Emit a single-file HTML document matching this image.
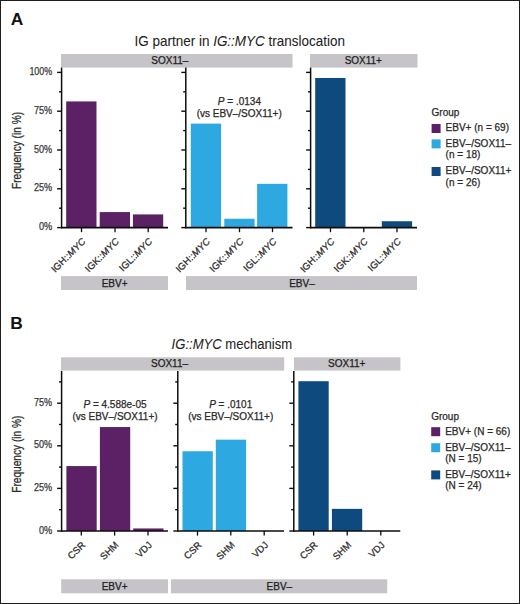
<!DOCTYPE html>
<html><head><meta charset="utf-8"><style>
html,body{margin:0;padding:0;background:#fff;}
body{width:520px;height:604px;overflow:hidden;}
svg{display:block;font-family:"Liberation Sans", sans-serif;}

</style></head><body>
<svg width="520" height="604" viewBox="0 0 520 604">
<rect x="0" y="0" width="520" height="604" fill="#fff"/>
<text x="10.70" y="24.90" font-size="17.4" font-weight="bold" fill="#111" stroke="#111" stroke-width="0">A</text>
<text x="134.50" y="45.80" font-size="14.3" textLength="210.5" lengthAdjust="spacingAndGlyphs" fill="#222" stroke="#222" stroke-width="0.05">IG partner in <tspan font-style="italic">IG::MYC</tspan> translocation</text>
<rect x="61.00" y="54.00" width="231.50" height="13.60" fill="#c6c4c8"/>
<text x="169.90" y="63.60" font-size="10" text-anchor="middle" fill="#222" stroke="#222" stroke-width="0.25">SOX11–</text>
<rect x="310.00" y="54.00" width="107.50" height="13.60" fill="#c6c4c8"/>
<text x="363.30" y="63.60" font-size="10" text-anchor="middle" fill="#222" stroke="#222" stroke-width="0.25">SOX11+</text>
<rect x="61.00" y="276.10" width="107.00" height="13.90" fill="#c6c4c8"/>
<text x="114.60" y="286.90" font-size="10" text-anchor="middle" fill="#222" stroke="#222" stroke-width="0.25">EBV+</text>
<rect x="186.00" y="276.10" width="231.00" height="13.90" fill="#c6c4c8"/>
<text x="302.00" y="286.90" font-size="10" text-anchor="middle" fill="#222" stroke="#222" stroke-width="0.25">EBV–</text>
<rect x="66.20" y="101.42" width="30.30" height="126.18" fill="#5b2164"/>
<rect x="99.70" y="212.08" width="30.30" height="15.52" fill="#5b2164"/>
<rect x="132.90" y="214.41" width="30.30" height="13.19" fill="#5b2164"/>
<line x1="61.60" y1="67.60" x2="61.60" y2="228.30" stroke="#0d0d0d" stroke-width="1.5"/>
<line x1="57.10" y1="227.60" x2="61.60" y2="227.60" stroke="#0d0d0d" stroke-width="1.4"/>
<line x1="57.10" y1="188.80" x2="61.60" y2="188.80" stroke="#0d0d0d" stroke-width="1.4"/>
<line x1="57.10" y1="150.00" x2="61.60" y2="150.00" stroke="#0d0d0d" stroke-width="1.4"/>
<line x1="57.10" y1="111.20" x2="61.60" y2="111.20" stroke="#0d0d0d" stroke-width="1.4"/>
<line x1="57.10" y1="72.40" x2="61.60" y2="72.40" stroke="#0d0d0d" stroke-width="1.4"/>
<line x1="59.00" y1="208.20" x2="61.60" y2="208.20" stroke="#0d0d0d" stroke-width="1.4"/>
<line x1="59.00" y1="169.40" x2="61.60" y2="169.40" stroke="#0d0d0d" stroke-width="1.4"/>
<line x1="59.00" y1="130.60" x2="61.60" y2="130.60" stroke="#0d0d0d" stroke-width="1.4"/>
<line x1="59.00" y1="91.80" x2="61.60" y2="91.80" stroke="#0d0d0d" stroke-width="1.4"/>
<line x1="61.00" y1="227.60" x2="168.00" y2="227.60" stroke="#0d0d0d" stroke-width="1.6"/>
<line x1="81.50" y1="227.60" x2="81.50" y2="232.20" stroke="#0d0d0d" stroke-width="1.3"/>
<text transform="translate(86.10,242.10) rotate(-45)" font-size="9.6" text-anchor="end" fill="#2a2a2a" stroke="#2a2a2a" stroke-width="0.25">IGH::<tspan font-style="italic">MYC</tspan></text>
<line x1="115.00" y1="227.60" x2="115.00" y2="232.20" stroke="#0d0d0d" stroke-width="1.3"/>
<text transform="translate(119.60,242.10) rotate(-45)" font-size="9.6" text-anchor="end" fill="#2a2a2a" stroke="#2a2a2a" stroke-width="0.25">IGK::<tspan font-style="italic">MYC</tspan></text>
<line x1="148.20" y1="227.60" x2="148.20" y2="232.20" stroke="#0d0d0d" stroke-width="1.3"/>
<text transform="translate(152.80,242.10) rotate(-45)" font-size="9.6" text-anchor="end" fill="#2a2a2a" stroke="#2a2a2a" stroke-width="0.25">IGL::<tspan font-style="italic">MYC</tspan></text>
<rect x="190.80" y="123.62" width="30.30" height="103.98" fill="#2ea8e0"/>
<rect x="224.30" y="218.75" width="30.30" height="8.85" fill="#2ea8e0"/>
<rect x="257.10" y="183.83" width="30.30" height="43.77" fill="#2ea8e0"/>
<line x1="185.80" y1="67.60" x2="185.80" y2="228.30" stroke="#0d0d0d" stroke-width="1.5"/>
<line x1="181.30" y1="227.60" x2="185.80" y2="227.60" stroke="#0d0d0d" stroke-width="1.4"/>
<line x1="181.30" y1="188.80" x2="185.80" y2="188.80" stroke="#0d0d0d" stroke-width="1.4"/>
<line x1="181.30" y1="150.00" x2="185.80" y2="150.00" stroke="#0d0d0d" stroke-width="1.4"/>
<line x1="181.30" y1="111.20" x2="185.80" y2="111.20" stroke="#0d0d0d" stroke-width="1.4"/>
<line x1="181.30" y1="72.40" x2="185.80" y2="72.40" stroke="#0d0d0d" stroke-width="1.4"/>
<line x1="183.20" y1="208.20" x2="185.80" y2="208.20" stroke="#0d0d0d" stroke-width="1.4"/>
<line x1="183.20" y1="169.40" x2="185.80" y2="169.40" stroke="#0d0d0d" stroke-width="1.4"/>
<line x1="183.20" y1="130.60" x2="185.80" y2="130.60" stroke="#0d0d0d" stroke-width="1.4"/>
<line x1="183.20" y1="91.80" x2="185.80" y2="91.80" stroke="#0d0d0d" stroke-width="1.4"/>
<line x1="185.20" y1="227.60" x2="292.50" y2="227.60" stroke="#0d0d0d" stroke-width="1.6"/>
<line x1="206.00" y1="227.60" x2="206.00" y2="232.20" stroke="#0d0d0d" stroke-width="1.3"/>
<text transform="translate(210.60,242.10) rotate(-45)" font-size="9.6" text-anchor="end" fill="#2a2a2a" stroke="#2a2a2a" stroke-width="0.25">IGH::<tspan font-style="italic">MYC</tspan></text>
<line x1="239.50" y1="227.60" x2="239.50" y2="232.20" stroke="#0d0d0d" stroke-width="1.3"/>
<text transform="translate(244.10,242.10) rotate(-45)" font-size="9.6" text-anchor="end" fill="#2a2a2a" stroke="#2a2a2a" stroke-width="0.25">IGK::<tspan font-style="italic">MYC</tspan></text>
<line x1="272.50" y1="227.60" x2="272.50" y2="232.20" stroke="#0d0d0d" stroke-width="1.3"/>
<text transform="translate(277.10,242.10) rotate(-45)" font-size="9.6" text-anchor="end" fill="#2a2a2a" stroke="#2a2a2a" stroke-width="0.25">IGL::<tspan font-style="italic">MYC</tspan></text>
<text x="239.40" y="104.80" font-size="10" text-anchor="middle" fill="#2a2a2a" stroke="#2a2a2a" stroke-width="0.25"><tspan font-style="italic">P</tspan> = .0134</text>
<text x="239.20" y="117.00" font-size="10" text-anchor="middle" fill="#2a2a2a" stroke="#2a2a2a" stroke-width="0.25">(vs EBV–/SOX11+)</text>
<rect x="315.20" y="77.99" width="30.30" height="149.61" fill="#0e4a7e"/>
<rect x="381.80" y="221.24" width="30.30" height="6.36" fill="#0e4a7e"/>
<line x1="310.60" y1="67.60" x2="310.60" y2="228.30" stroke="#0d0d0d" stroke-width="1.5"/>
<line x1="306.10" y1="227.60" x2="310.60" y2="227.60" stroke="#0d0d0d" stroke-width="1.4"/>
<line x1="306.10" y1="188.80" x2="310.60" y2="188.80" stroke="#0d0d0d" stroke-width="1.4"/>
<line x1="306.10" y1="150.00" x2="310.60" y2="150.00" stroke="#0d0d0d" stroke-width="1.4"/>
<line x1="306.10" y1="111.20" x2="310.60" y2="111.20" stroke="#0d0d0d" stroke-width="1.4"/>
<line x1="306.10" y1="72.40" x2="310.60" y2="72.40" stroke="#0d0d0d" stroke-width="1.4"/>
<line x1="308.00" y1="208.20" x2="310.60" y2="208.20" stroke="#0d0d0d" stroke-width="1.4"/>
<line x1="308.00" y1="169.40" x2="310.60" y2="169.40" stroke="#0d0d0d" stroke-width="1.4"/>
<line x1="308.00" y1="130.60" x2="310.60" y2="130.60" stroke="#0d0d0d" stroke-width="1.4"/>
<line x1="308.00" y1="91.80" x2="310.60" y2="91.80" stroke="#0d0d0d" stroke-width="1.4"/>
<line x1="310.00" y1="227.60" x2="417.00" y2="227.60" stroke="#0d0d0d" stroke-width="1.6"/>
<line x1="330.50" y1="227.60" x2="330.50" y2="232.20" stroke="#0d0d0d" stroke-width="1.3"/>
<text transform="translate(335.10,242.10) rotate(-45)" font-size="9.6" text-anchor="end" fill="#2a2a2a" stroke="#2a2a2a" stroke-width="0.25">IGH::<tspan font-style="italic">MYC</tspan></text>
<line x1="363.80" y1="227.60" x2="363.80" y2="232.20" stroke="#0d0d0d" stroke-width="1.3"/>
<text transform="translate(368.40,242.10) rotate(-45)" font-size="9.6" text-anchor="end" fill="#2a2a2a" stroke="#2a2a2a" stroke-width="0.25">IGK::<tspan font-style="italic">MYC</tspan></text>
<line x1="397.00" y1="227.60" x2="397.00" y2="232.20" stroke="#0d0d0d" stroke-width="1.3"/>
<text transform="translate(401.60,242.10) rotate(-45)" font-size="9.6" text-anchor="end" fill="#2a2a2a" stroke="#2a2a2a" stroke-width="0.25">IGL::<tspan font-style="italic">MYC</tspan></text>
<text x="52.20" y="230.15" font-size="10" text-anchor="end" textLength="13.3" lengthAdjust="spacingAndGlyphs" fill="#3a3a3a" stroke="#3a3a3a" stroke-width="0.25">0%</text>
<text x="52.20" y="191.35" font-size="10" text-anchor="end" textLength="18.2" lengthAdjust="spacingAndGlyphs" fill="#3a3a3a" stroke="#3a3a3a" stroke-width="0.25">25%</text>
<text x="52.20" y="152.55" font-size="10" text-anchor="end" textLength="18.2" lengthAdjust="spacingAndGlyphs" fill="#3a3a3a" stroke="#3a3a3a" stroke-width="0.25">50%</text>
<text x="52.20" y="113.75" font-size="10" text-anchor="end" textLength="18.2" lengthAdjust="spacingAndGlyphs" fill="#3a3a3a" stroke="#3a3a3a" stroke-width="0.25">75%</text>
<text x="52.20" y="74.95" font-size="10" text-anchor="end" textLength="22.8" lengthAdjust="spacingAndGlyphs" fill="#3a3a3a" stroke="#3a3a3a" stroke-width="0.25">100%</text>
<text transform="translate(21.10,150.50) rotate(-90)" font-size="12.4" text-anchor="middle" textLength="77" lengthAdjust="spacingAndGlyphs" fill="#2a2a2a" stroke="#2a2a2a" stroke-width="0.25">Frequency (in %)</text>
<text x="431.60" y="116.00" font-size="10" fill="#2a2a2a" stroke="#2a2a2a" stroke-width="0.25">Group</text>
<rect x="431.60" y="124.00" width="9.00" height="9.00" fill="#5b2164"/>
<text x="445.60" y="131.30" font-size="10" fill="#2a2a2a" stroke="#2a2a2a" stroke-width="0.25">EBV+ (n = 69)</text>
<rect x="431.60" y="139.40" width="9.00" height="9.00" fill="#2ea8e0"/>
<text x="445.60" y="146.70" font-size="10" fill="#2a2a2a" stroke="#2a2a2a" stroke-width="0.25">EBV–/SOX11–</text>
<text x="445.60" y="158.40" font-size="10" fill="#2a2a2a" stroke="#2a2a2a" stroke-width="0.25">(n = 18)</text>
<rect x="431.60" y="167.00" width="9.00" height="9.00" fill="#0e4a7e"/>
<text x="445.60" y="174.30" font-size="10" fill="#2a2a2a" stroke="#2a2a2a" stroke-width="0.25">EBV–/SOX11+</text>
<text x="445.60" y="186.00" font-size="10" fill="#2a2a2a" stroke="#2a2a2a" stroke-width="0.25">(n = 26)</text>
<text x="10.20" y="328.90" font-size="17.4" font-weight="bold" fill="#111" stroke="#111" stroke-width="0">B</text>
<text x="171.60" y="349.00" font-size="14.3" textLength="120.5" lengthAdjust="spacingAndGlyphs" fill="#222" stroke="#222" stroke-width="0.05"><tspan font-style="italic">IG::MYC</tspan> mechanism</text>
<rect x="61.00" y="357.30" width="223.20" height="13.30" fill="#c6c4c8"/>
<text x="169.50" y="367.10" font-size="10" text-anchor="middle" fill="#222" stroke="#222" stroke-width="0.25">SOX11–</text>
<rect x="294.00" y="357.30" width="106.40" height="13.30" fill="#c6c4c8"/>
<text x="346.70" y="367.10" font-size="10" text-anchor="middle" fill="#222" stroke="#222" stroke-width="0.25">SOX11+</text>
<rect x="61.20" y="579.30" width="106.80" height="14.00" fill="#c6c4c8"/>
<text x="114.60" y="589.90" font-size="10" text-anchor="middle" fill="#222" stroke="#222" stroke-width="0.25">EBV+</text>
<rect x="171.00" y="579.30" width="216.20" height="14.00" fill="#c6c4c8"/>
<text x="279.40" y="589.90" font-size="10" text-anchor="middle" fill="#222" stroke="#222" stroke-width="0.25">EBV–</text>
<rect x="66.40" y="466.08" width="30.30" height="64.92" fill="#5b2164"/>
<rect x="99.90" y="427.06" width="30.30" height="103.94" fill="#5b2164"/>
<rect x="133.20" y="528.44" width="30.30" height="2.56" fill="#5b2164"/>
<line x1="61.60" y1="371.00" x2="61.60" y2="531.70" stroke="#0d0d0d" stroke-width="1.5"/>
<line x1="57.10" y1="531.00" x2="61.60" y2="531.00" stroke="#0d0d0d" stroke-width="1.4"/>
<line x1="57.10" y1="488.40" x2="61.60" y2="488.40" stroke="#0d0d0d" stroke-width="1.4"/>
<line x1="57.10" y1="445.80" x2="61.60" y2="445.80" stroke="#0d0d0d" stroke-width="1.4"/>
<line x1="57.10" y1="403.20" x2="61.60" y2="403.20" stroke="#0d0d0d" stroke-width="1.4"/>
<line x1="59.00" y1="509.70" x2="61.60" y2="509.70" stroke="#0d0d0d" stroke-width="1.4"/>
<line x1="59.00" y1="467.10" x2="61.60" y2="467.10" stroke="#0d0d0d" stroke-width="1.4"/>
<line x1="59.00" y1="424.50" x2="61.60" y2="424.50" stroke="#0d0d0d" stroke-width="1.4"/>
<line x1="59.00" y1="381.90" x2="61.60" y2="381.90" stroke="#0d0d0d" stroke-width="1.4"/>
<line x1="61.00" y1="531.00" x2="168.00" y2="531.00" stroke="#0d0d0d" stroke-width="1.6"/>
<line x1="81.30" y1="531.00" x2="81.30" y2="535.60" stroke="#0d0d0d" stroke-width="1.3"/>
<text transform="translate(85.90,545.50) rotate(-45)" font-size="9.6" text-anchor="end" fill="#2a2a2a" stroke="#2a2a2a" stroke-width="0.25">CSR</text>
<line x1="114.60" y1="531.00" x2="114.60" y2="535.60" stroke="#0d0d0d" stroke-width="1.3"/>
<text transform="translate(119.20,545.50) rotate(-45)" font-size="9.6" text-anchor="end" fill="#2a2a2a" stroke="#2a2a2a" stroke-width="0.25">SHM</text>
<line x1="148.00" y1="531.00" x2="148.00" y2="535.60" stroke="#0d0d0d" stroke-width="1.3"/>
<text transform="translate(152.60,545.50) rotate(-45)" font-size="9.6" text-anchor="end" fill="#2a2a2a" stroke="#2a2a2a" stroke-width="0.25">VDJ</text>
<text x="115.00" y="408.40" font-size="10" text-anchor="middle" fill="#2a2a2a" stroke="#2a2a2a" stroke-width="0.25"><tspan font-style="italic">P</tspan> = 4.588e-05</text>
<text x="115.00" y="420.30" font-size="10" text-anchor="middle" fill="#2a2a2a" stroke="#2a2a2a" stroke-width="0.25">(vs EBV–/SOX11+)</text>
<rect x="182.50" y="451.25" width="30.30" height="79.75" fill="#2ea8e0"/>
<rect x="215.80" y="439.67" width="30.30" height="91.33" fill="#2ea8e0"/>
<line x1="177.80" y1="371.00" x2="177.80" y2="531.70" stroke="#0d0d0d" stroke-width="1.5"/>
<line x1="173.30" y1="531.00" x2="177.80" y2="531.00" stroke="#0d0d0d" stroke-width="1.4"/>
<line x1="173.30" y1="488.40" x2="177.80" y2="488.40" stroke="#0d0d0d" stroke-width="1.4"/>
<line x1="173.30" y1="445.80" x2="177.80" y2="445.80" stroke="#0d0d0d" stroke-width="1.4"/>
<line x1="173.30" y1="403.20" x2="177.80" y2="403.20" stroke="#0d0d0d" stroke-width="1.4"/>
<line x1="175.20" y1="509.70" x2="177.80" y2="509.70" stroke="#0d0d0d" stroke-width="1.4"/>
<line x1="175.20" y1="467.10" x2="177.80" y2="467.10" stroke="#0d0d0d" stroke-width="1.4"/>
<line x1="175.20" y1="424.50" x2="177.80" y2="424.50" stroke="#0d0d0d" stroke-width="1.4"/>
<line x1="175.20" y1="381.90" x2="177.80" y2="381.90" stroke="#0d0d0d" stroke-width="1.4"/>
<line x1="177.20" y1="531.00" x2="284.00" y2="531.00" stroke="#0d0d0d" stroke-width="1.6"/>
<line x1="197.50" y1="531.00" x2="197.50" y2="535.60" stroke="#0d0d0d" stroke-width="1.3"/>
<text transform="translate(202.10,545.50) rotate(-45)" font-size="9.6" text-anchor="end" fill="#2a2a2a" stroke="#2a2a2a" stroke-width="0.25">CSR</text>
<line x1="230.80" y1="531.00" x2="230.80" y2="535.60" stroke="#0d0d0d" stroke-width="1.3"/>
<text transform="translate(235.40,545.50) rotate(-45)" font-size="9.6" text-anchor="end" fill="#2a2a2a" stroke="#2a2a2a" stroke-width="0.25">SHM</text>
<line x1="264.20" y1="531.00" x2="264.20" y2="535.60" stroke="#0d0d0d" stroke-width="1.3"/>
<text transform="translate(268.80,545.50) rotate(-45)" font-size="9.6" text-anchor="end" fill="#2a2a2a" stroke="#2a2a2a" stroke-width="0.25">VDJ</text>
<text x="230.70" y="408.40" font-size="10" text-anchor="middle" fill="#2a2a2a" stroke="#2a2a2a" stroke-width="0.25"><tspan font-style="italic">P</tspan> = .0101</text>
<text x="230.70" y="420.30" font-size="10" text-anchor="middle" fill="#2a2a2a" stroke="#2a2a2a" stroke-width="0.25">(vs EBV–/SOX11+)</text>
<rect x="298.40" y="381.22" width="30.30" height="149.78" fill="#0e4a7e"/>
<rect x="331.90" y="508.85" width="30.30" height="22.15" fill="#0e4a7e"/>
<line x1="293.80" y1="371.00" x2="293.80" y2="531.70" stroke="#0d0d0d" stroke-width="1.5"/>
<line x1="289.30" y1="531.00" x2="293.80" y2="531.00" stroke="#0d0d0d" stroke-width="1.4"/>
<line x1="289.30" y1="488.40" x2="293.80" y2="488.40" stroke="#0d0d0d" stroke-width="1.4"/>
<line x1="289.30" y1="445.80" x2="293.80" y2="445.80" stroke="#0d0d0d" stroke-width="1.4"/>
<line x1="289.30" y1="403.20" x2="293.80" y2="403.20" stroke="#0d0d0d" stroke-width="1.4"/>
<line x1="291.20" y1="509.70" x2="293.80" y2="509.70" stroke="#0d0d0d" stroke-width="1.4"/>
<line x1="291.20" y1="467.10" x2="293.80" y2="467.10" stroke="#0d0d0d" stroke-width="1.4"/>
<line x1="291.20" y1="424.50" x2="293.80" y2="424.50" stroke="#0d0d0d" stroke-width="1.4"/>
<line x1="291.20" y1="381.90" x2="293.80" y2="381.90" stroke="#0d0d0d" stroke-width="1.4"/>
<line x1="293.20" y1="531.00" x2="400.30" y2="531.00" stroke="#0d0d0d" stroke-width="1.6"/>
<line x1="313.60" y1="531.00" x2="313.60" y2="535.60" stroke="#0d0d0d" stroke-width="1.3"/>
<text transform="translate(318.20,545.50) rotate(-45)" font-size="9.6" text-anchor="end" fill="#2a2a2a" stroke="#2a2a2a" stroke-width="0.25">CSR</text>
<line x1="347.20" y1="531.00" x2="347.20" y2="535.60" stroke="#0d0d0d" stroke-width="1.3"/>
<text transform="translate(351.80,545.50) rotate(-45)" font-size="9.6" text-anchor="end" fill="#2a2a2a" stroke="#2a2a2a" stroke-width="0.25">SHM</text>
<line x1="380.80" y1="531.00" x2="380.80" y2="535.60" stroke="#0d0d0d" stroke-width="1.3"/>
<text transform="translate(385.40,545.50) rotate(-45)" font-size="9.6" text-anchor="end" fill="#2a2a2a" stroke="#2a2a2a" stroke-width="0.25">VDJ</text>
<text x="52.20" y="533.55" font-size="10" text-anchor="end" textLength="13.3" lengthAdjust="spacingAndGlyphs" fill="#3a3a3a" stroke="#3a3a3a" stroke-width="0.25">0%</text>
<text x="52.20" y="490.95" font-size="10" text-anchor="end" textLength="18.2" lengthAdjust="spacingAndGlyphs" fill="#3a3a3a" stroke="#3a3a3a" stroke-width="0.25">25%</text>
<text x="52.20" y="448.35" font-size="10" text-anchor="end" textLength="18.2" lengthAdjust="spacingAndGlyphs" fill="#3a3a3a" stroke="#3a3a3a" stroke-width="0.25">50%</text>
<text x="52.20" y="405.75" font-size="10" text-anchor="end" textLength="18.2" lengthAdjust="spacingAndGlyphs" fill="#3a3a3a" stroke="#3a3a3a" stroke-width="0.25">75%</text>
<text transform="translate(21.10,454.20) rotate(-90)" font-size="12.4" text-anchor="middle" textLength="77" lengthAdjust="spacingAndGlyphs" fill="#2a2a2a" stroke="#2a2a2a" stroke-width="0.25">Frequency (in %)</text>
<text x="431.20" y="419.60" font-size="10" fill="#2a2a2a" stroke="#2a2a2a" stroke-width="0.25">Group</text>
<rect x="431.20" y="427.20" width="9.00" height="9.00" fill="#5b2164"/>
<text x="445.20" y="434.50" font-size="10" fill="#2a2a2a" stroke="#2a2a2a" stroke-width="0.25">EBV+ (N = 66)</text>
<rect x="431.20" y="443.20" width="9.00" height="9.00" fill="#2ea8e0"/>
<text x="445.20" y="450.50" font-size="10" fill="#2a2a2a" stroke="#2a2a2a" stroke-width="0.25">EBV–/SOX11–</text>
<text x="445.20" y="462.20" font-size="10" fill="#2a2a2a" stroke="#2a2a2a" stroke-width="0.25">(N = 15)</text>
<rect x="431.20" y="470.40" width="9.00" height="9.00" fill="#0e4a7e"/>
<text x="445.20" y="477.70" font-size="10" fill="#2a2a2a" stroke="#2a2a2a" stroke-width="0.25">EBV–/SOX11+</text>
<text x="445.20" y="489.40" font-size="10" fill="#2a2a2a" stroke="#2a2a2a" stroke-width="0.25">(N = 24)</text>
<rect x="0.5" y="0.5" width="519" height="603" fill="none" stroke="#1e1e1e" stroke-width="1"/>
</svg>
</body></html>
